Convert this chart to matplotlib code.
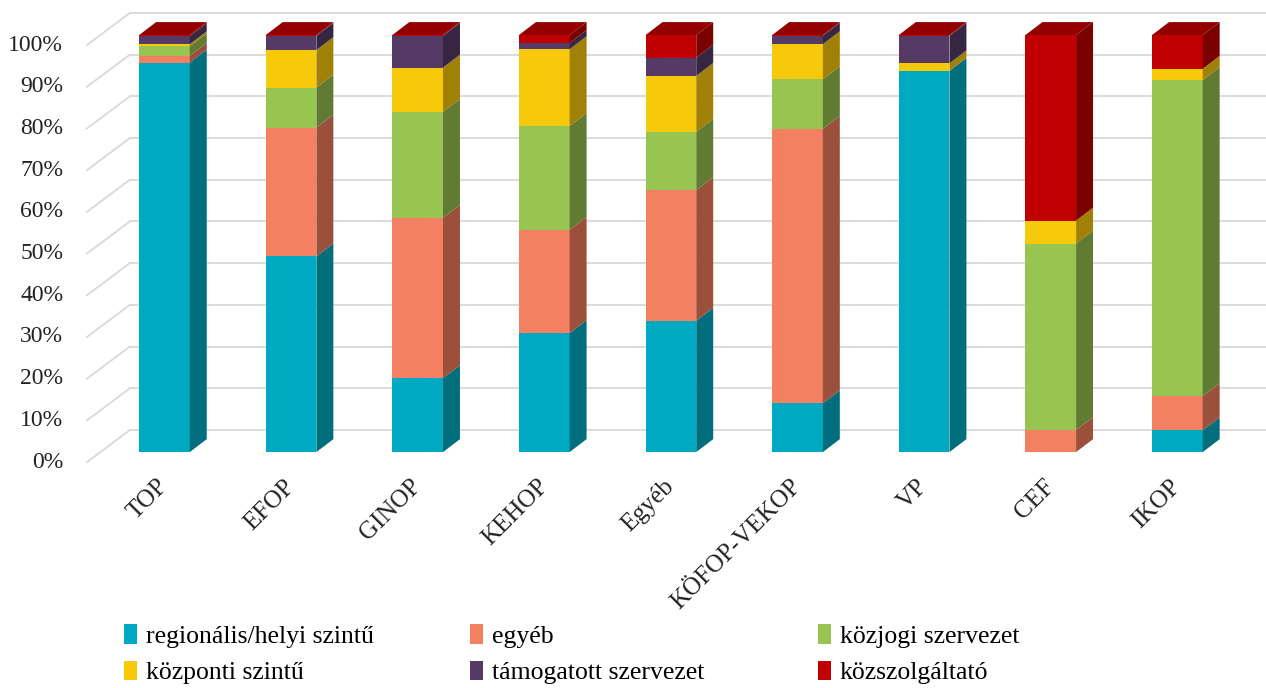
import numpy as np
import matplotlib.pyplot as plt
from matplotlib.patches import Polygon, Patch

plt.rcParams['font.family'] = ['Liberation Serif', 'DejaVu Serif']

categories = ['TOP', 'EFOP', 'GINOP', 'KEHOP', 'Egyéb', 'KÖFOP-VEKOP', 'VP', 'CEF', 'IKOP']
series_names = ['regionális/helyi szintű', 'egyéb', 'közjogi szervezet',
                'központi szintű', 'támogatott szervezet', 'közszolgáltató']

# shares in %
regionalis = [93.4, 46.9, 17.7, 28.5, 31.5, 11.7, 91.4, 0.0, 5.2]
egyeb = [1.6, 30.9, 38.5, 24.8, 31.3, 65.8, 0.0, 5.3, 8.2]
kozjogi = [2.3, 9.6, 25.4, 24.9, 14.0, 11.9, 0.0, 44.7, 75.8]
kozponti = [0.5, 9.0, 10.6, 18.4, 13.4, 8.4, 1.8, 5.5, 2.7]
tamogatott = [1.9, 3.4, 7.6, 1.5, 4.4, 2.0, 6.6, 0.0, 0.0]
kozszolg = [0.3, 0.2, 0.2, 1.9, 5.4, 0.2, 0.2, 44.5, 8.1]

front_colors = ['#00A9C2', '#F28061', '#98C452', '#F6CA0B', '#553A66', '#C00000']
side_colors = ['#006E7D', '#9A503B', '#617B33', '#A08106', '#372641', '#7B0000']
top_colors = ['#00899D', '#C4674E', '#7A9E42', '#C9A509', '#45304F', '#930000']

all_series = [regionalis, egyeb, kozjogi, kozponti, tamogatott, kozszolg]

# oblique "3D" offsets (data units)
DX, DY = 0.134, 3.1      # bar depth
WX, WY = -0.273, 5.3     # back wall start / lift
FX, FY = -0.612, -2.4    # front end of left diagonals
W = 0.40

fig = plt.figure(figsize=(12.66, 6.88), dpi=100)
ax = fig.add_axes([80 / 1266, (688 - 470) / 688, 1186 / 1266, 465 / 688])
ax.set_xlim(-0.667, 8.70)
ax.set_ylim(-4.3, 107.2)
ax.axis('off')

grid_c = '#D9D9D9'
for v in range(0, 101, 10):
    ax.plot([WX, 8.70], [v + WY, v + WY], color=grid_c, lw=1.3, zorder=0, clip_on=False)
    ax.plot([FX, WX], [v + FY, v + WY], color=grid_c, lw=1.3, zorder=0, clip_on=False)
    ax.text(-0.80, v + FY, f'{v}%', ha='right', va='center', fontsize=17, color='#222222')

x = np.arange(len(categories))
bottom = np.zeros(len(categories))
for k, vals in enumerate(all_series):
    vals = np.array(vals)
    ax.bar(x, vals, width=W, bottom=bottom, color=front_colors[k], zorder=3)
    for i in range(len(categories)):
        if vals[i] <= 0:
            continue
        x1 = x[i] + W / 2
        y0, y1 = bottom[i], bottom[i] + vals[i]
        side = Polygon([(x1, y0), (x1 + DX, y0 + DY), (x1 + DX, y1 + DY), (x1, y1)],
                       closed=True, facecolor=side_colors[k], edgecolor='none', zorder=3)
        ax.add_patch(side)
    bottom = bottom + vals

# top faces take the colour of the uppermost series
for i in range(len(categories)):
    k_top = max(k for k in range(len(all_series)) if all_series[k][i] > 0)
    x0, x1 = x[i] - W / 2, x[i] + W / 2
    t = bottom[i]
    top = Polygon([(x0, t), (x1, t), (x1 + DX, t + DY), (x0 + DX, t + DY)],
                  closed=True, facecolor=top_colors[k_top], edgecolor='none', zorder=3)
    ax.add_patch(top)

for i, c in enumerate(categories):
    ax.text(x[i] - 0.06, -5.6, c, rotation=45, ha='right', va='top',
            rotation_mode='anchor', fontsize=18, color='#222222')

# legend: three one-column legends so the columns start at fixed places
order = [(0, 3), (1, 4), (2, 5)]
col_x = [124 / 1266, 470 / 1266, 818 / 1266]
for (a, b), cx in zip(order, col_x):
    handles = [Patch(facecolor=front_colors[a], label=series_names[a]),
               Patch(facecolor=front_colors[b], label=series_names[b])]
    fig.legend(handles=handles, loc='upper left', bbox_to_anchor=(cx, 1 - 624 / 688),
               frameon=False, fontsize=18.5, handlelength=0.5, handleheight=0.8,
               handletextpad=0.35, labelspacing=0.5, borderaxespad=0, borderpad=0)

fig.savefig('out.png', dpi=100)
